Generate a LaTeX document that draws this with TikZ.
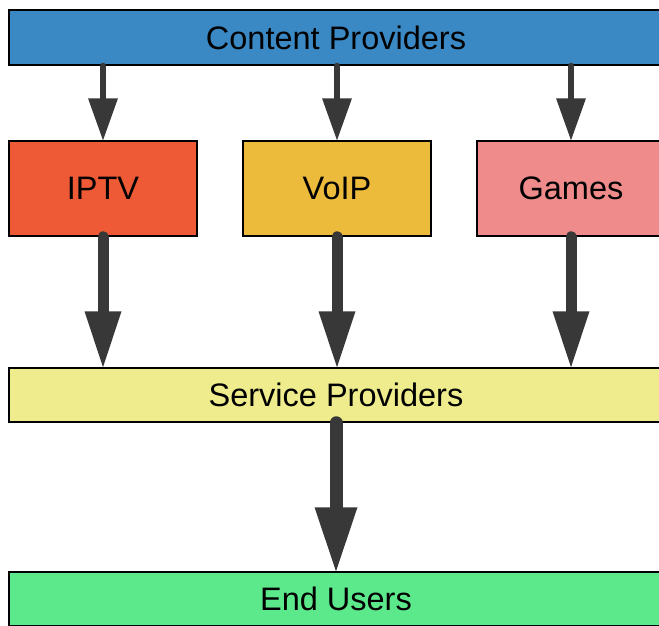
\documentclass[tikz,border=0pt]{standalone}
\usepackage{fontspec}
\setmainfont{Liberation Sans}
\usetikzlibrary{arrows.meta}
\definecolor{cpblue}{HTML}{3A89C4}
\definecolor{iptvc}{HTML}{EE5A35}
\definecolor{voipc}{HTML}{EDBB3B}
\definecolor{gamesc}{HTML}{EF8B8A}
\definecolor{spc}{HTML}{EEEC8C}
\definecolor{euc}{HTML}{5CE98B}
\definecolor{arr}{HTML}{383838}
\tikzset{
  box/.style={draw=black, line width=1.5pt, inner sep=0pt, font=\fontsize{32.5}{39}\selectfont, text=black},
  wide/.style={box, minimum width=654pt},
  small/.style={box, minimum width=188pt, minimum height=95pt},
  flow/.style={draw=arr, fill=arr, line cap=round},
  thinflow/.style={flow, line width=6pt, -{Triangle[width=30pt,length=42pt,line width=0pt]}},
  midflow/.style={flow, line width=11pt, -{Triangle[width=37pt,length=56pt,line width=0pt]}},
  bigflow/.style={flow, line width=13pt, -{Triangle[width=43pt,length=64pt,line width=0pt]}},
}
\begin{document}
\begin{tikzpicture}[x=1pt,y=-1pt]
\useasboundingbox (0,0) rectangle (659,625);
\clip (0,0) rectangle (659,625);
\node[wide, fill=cpblue, minimum height=55pt] (cp) at (336,37.5) {Content Providers};
\node[small, fill=iptvc] (iptv) at (103,188.5) {IPTV};
\node[small, fill=voipc] (voip) at (337,188.5) {VoIP};
\node[small, fill=gamesc] (games) at (571,188.5) {Games};
\node[wide, fill=spc, minimum height=54pt] (sp) at (336,395) {Service Providers};
\node[wide, fill=euc, minimum height=54pt] (eu) at (336,599) {End Users};

\draw[thinflow] (iptv.north |- cp.south) -- (iptv.north);
\draw[thinflow] (voip.north |- cp.south) -- (voip.north);
\draw[thinflow] (games.north |- cp.south) -- (games.north);
\draw[midflow] (iptv.south) -- (iptv.south |- sp.north);
\draw[midflow] (voip.south) -- (voip.south |- sp.north);
\draw[midflow] (games.south) -- (games.south |- sp.north);
\draw[bigflow] (sp.south) -- (eu.north);
\end{tikzpicture}
\end{document}
